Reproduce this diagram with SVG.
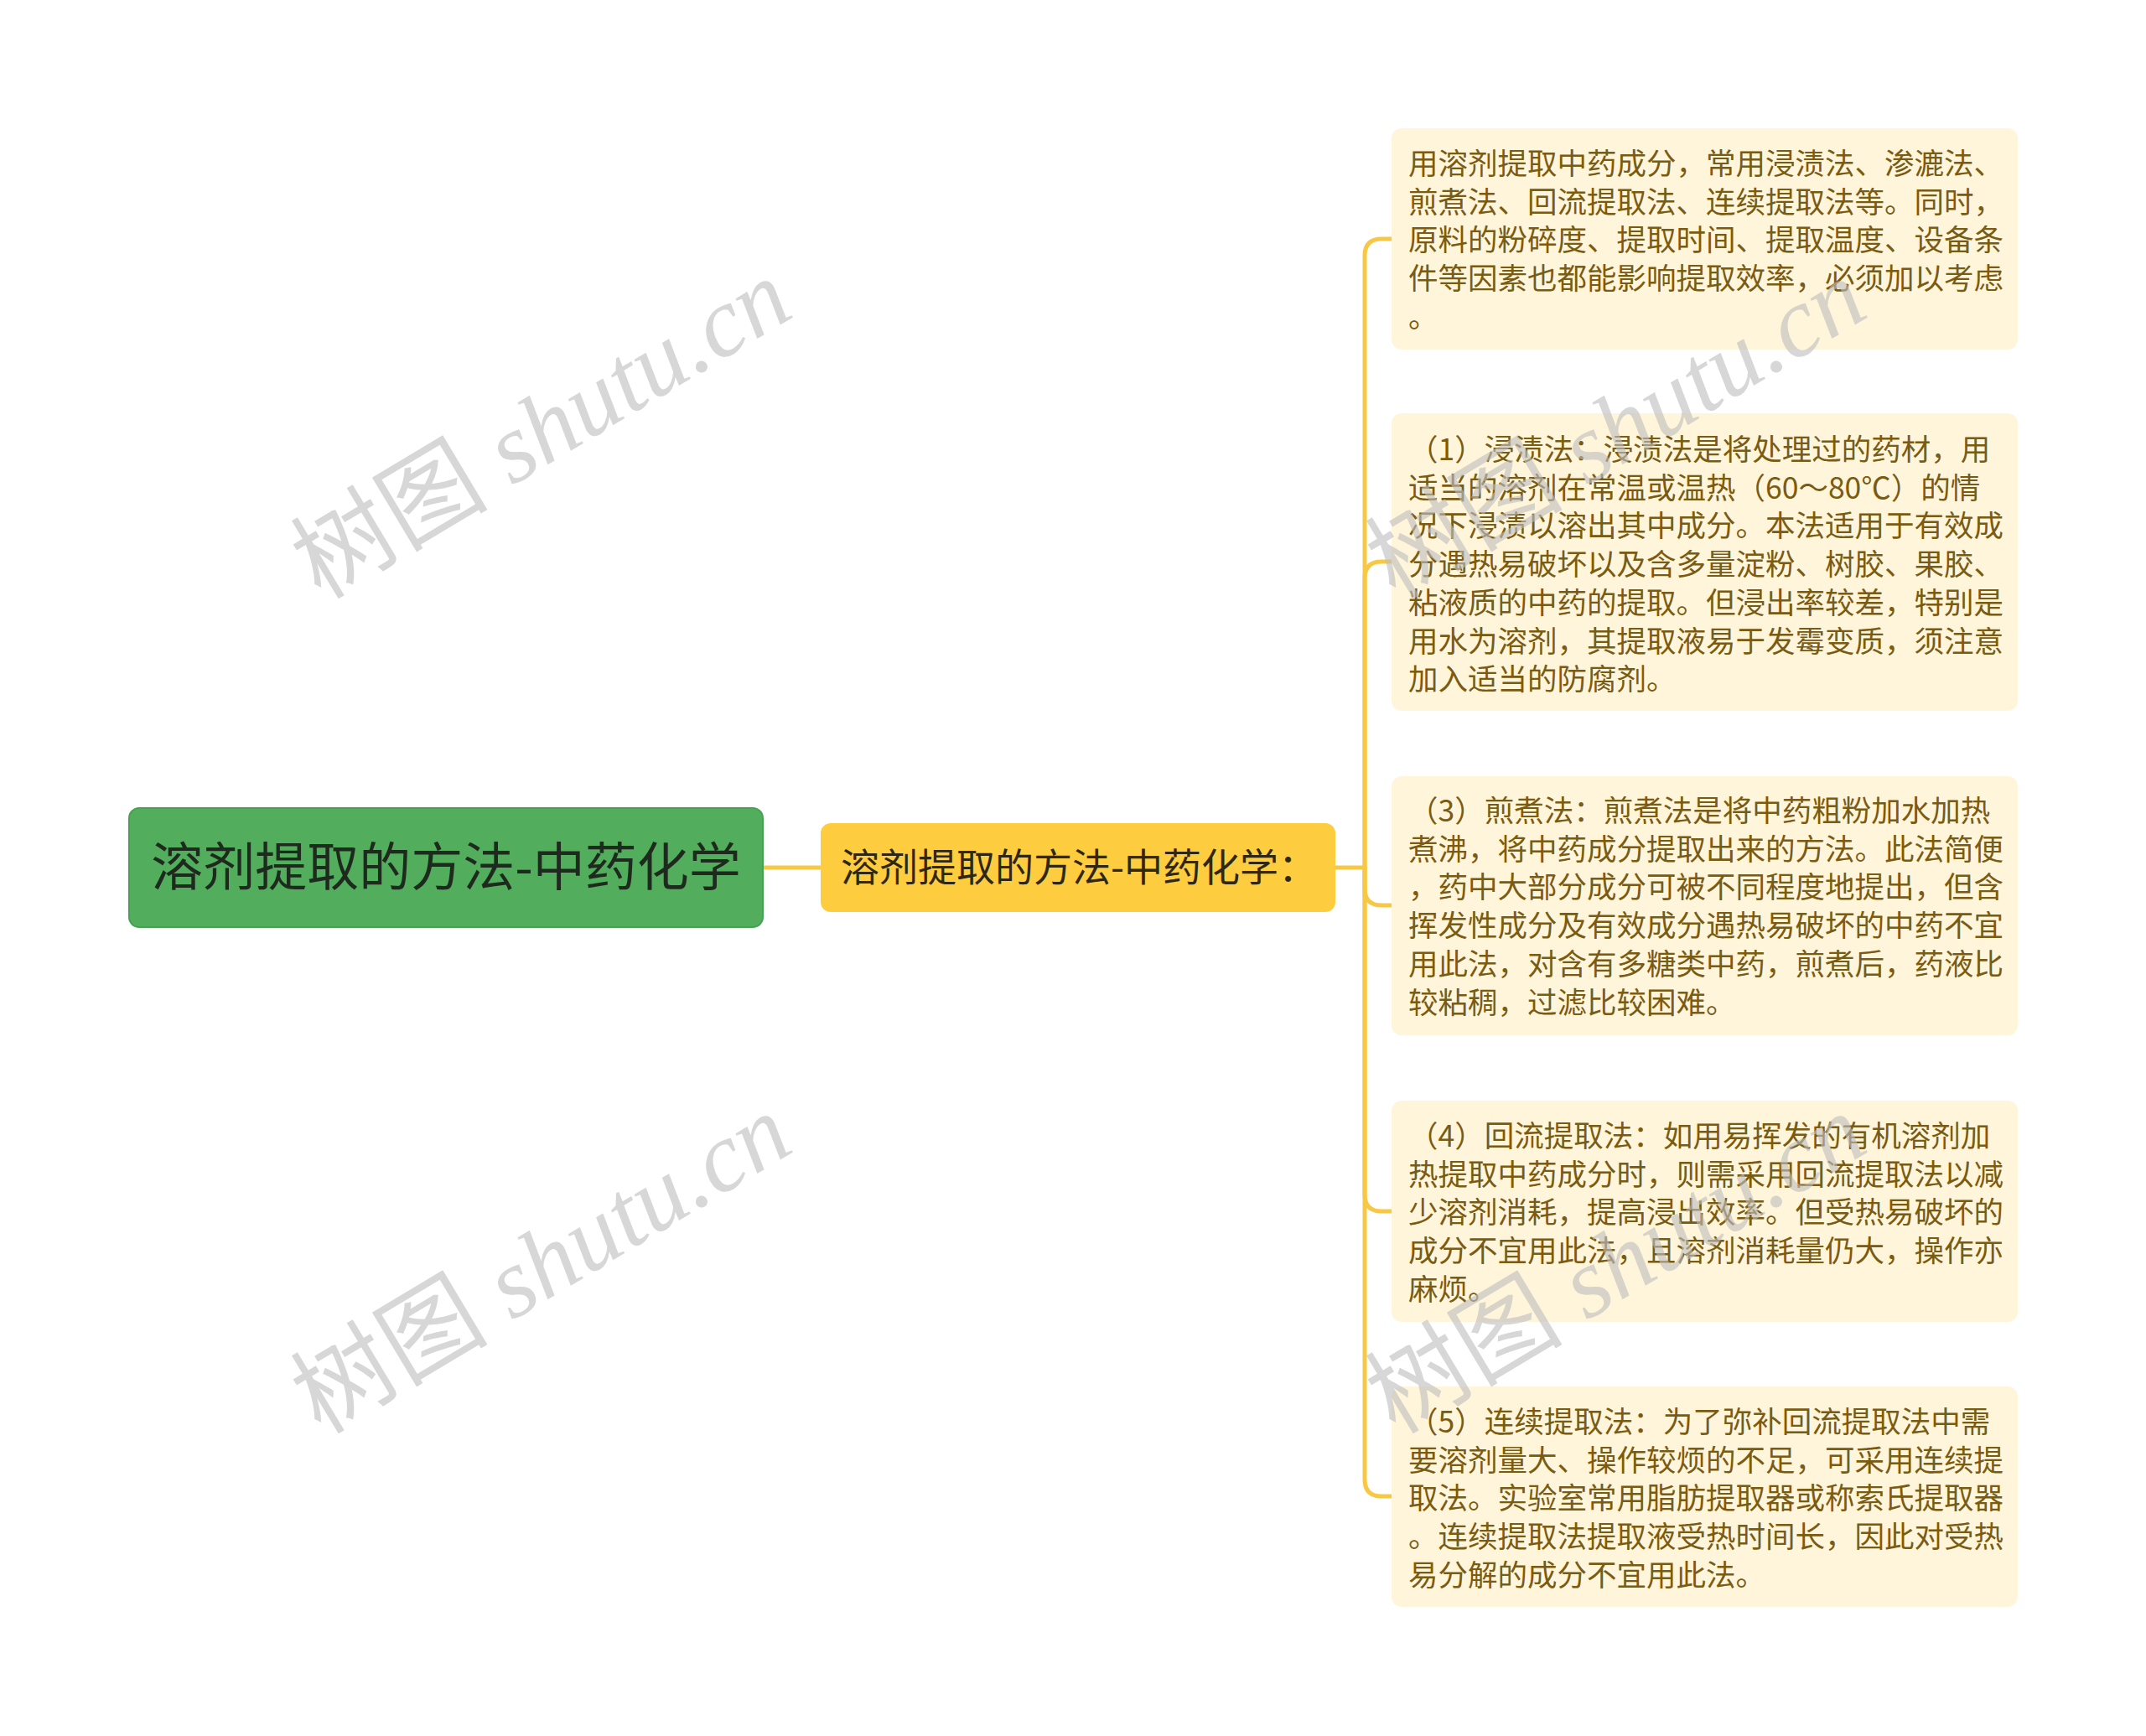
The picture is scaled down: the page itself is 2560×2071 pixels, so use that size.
<svg xmlns="http://www.w3.org/2000/svg" width="2560" height="2071" viewBox="0 0 2560 2071">
<style>
.leaf rect{fill:#FEF5DA;}
.leaf text{font-family:"Noto Sans CJK SC","Noto Sans",sans-serif;font-size:35.5px;fill:#7A5B12;}
.conn{fill:none;stroke:#F7C846;stroke-width:5;stroke-linecap:round;}
.wm{font-family:"Liberation Serif","Noto Sans CJK SC",serif;font-size:118px;fill:#BFBFBF;fill-opacity:0.62;}
</style>
<rect width="2560" height="2071" fill="#FFFFFF"/>
<g id="connectors">
<path class="conn" d="M910 1035 H979"/>
<path class="conn" d="M1593 1035 H1628"/>
<path class="conn" d="M1628 1035 V305 Q1628 285 1648 285 H1660"/>
<path class="conn" d="M1628 1035 V690 Q1628 670 1648 670 H1660"/>
<path class="conn" d="M1628 1035 V1060 Q1628 1080 1648 1080 H1660"/>
<path class="conn" d="M1628 1035 V1425 Q1628 1445 1648 1445 H1660"/>
<path class="conn" d="M1628 1035 V1765 Q1628 1785 1648 1785 H1660"/>
</g>
<g id="root">
<rect x="154" y="964" width="756" height="142" rx="12" fill="#52AE5D" stroke="#47A153" stroke-width="2"/>
<text x="532" y="1057" text-anchor="middle" font-family="Noto Sans CJK SC, Noto Sans, sans-serif" font-size="62" fill="#1E2A1E">溶剂提取的方法-中药化学</text>
</g>
<g id="sub">
<rect x="979" y="982" width="614" height="106" rx="12" fill="#FECC3F"/>
<text x="1003" y="1051" font-family="Noto Sans CJK SC, Noto Sans, sans-serif" font-size="46" fill="#2E2812">溶剂提取的方法-中药化学：</text>
</g>
<g id="leaf1" class="leaf">
<rect x="1660" y="153" width="747" height="264" rx="12"/>
<text>
<tspan x="1680" y="208">用溶剂提取中药成分，常用浸渍法、渗漉法、</tspan>
<tspan x="1680" y="253.7">煎煮法、回流提取法、连续提取法等。同时，</tspan>
<tspan x="1680" y="299.4">原料的粉碎度、提取时间、提取温度、设备条</tspan>
<tspan x="1680" y="345.1">件等因素也都能影响提取效率，必须加以考虑</tspan>
<tspan x="1680" y="390.8">。</tspan>
</text>
</g>
<g id="leaf2" class="leaf">
<rect x="1660" y="493" width="747" height="355" rx="12"/>
<text>
<tspan x="1680" y="549">（1）浸渍法：浸渍法是将处理过的药材，用</tspan>
<tspan x="1680" y="594.7">适当的溶剂在常温或温热（60～80℃）的情</tspan>
<tspan x="1680" y="640.4">况下浸渍以溶出其中成分。本法适用于有效成</tspan>
<tspan x="1680" y="686.1">分遇热易破坏以及含多量淀粉、树胶、果胶、</tspan>
<tspan x="1680" y="731.8">粘液质的中药的提取。但浸出率较差，特别是</tspan>
<tspan x="1680" y="777.5">用水为溶剂，其提取液易于发霉变质，须注意</tspan>
<tspan x="1680" y="823.2">加入适当的防腐剂。</tspan>
</text>
</g>
<g id="leaf3" class="leaf">
<rect x="1660" y="926" width="747" height="309" rx="12"/>
<text>
<tspan x="1680" y="980">（3）煎煮法：煎煮法是将中药粗粉加水加热</tspan>
<tspan x="1680" y="1025.7">煮沸，将中药成分提取出来的方法。此法简便</tspan>
<tspan x="1680" y="1071.4">，药中大部分成分可被不同程度地提出，但含</tspan>
<tspan x="1680" y="1117.1">挥发性成分及有效成分遇热易破坏的中药不宜</tspan>
<tspan x="1680" y="1162.8">用此法，对含有多糖类中药，煎煮后，药液比</tspan>
<tspan x="1680" y="1208.5">较粘稠，过滤比较困难。</tspan>
</text>
</g>
<g id="leaf4" class="leaf">
<rect x="1660" y="1313" width="747" height="264" rx="12"/>
<text>
<tspan x="1680" y="1368">（4）回流提取法：如用易挥发的有机溶剂加</tspan>
<tspan x="1680" y="1413.7">热提取中药成分时，则需采用回流提取法以减</tspan>
<tspan x="1680" y="1459.4">少溶剂消耗，提高浸出效率。但受热易破坏的</tspan>
<tspan x="1680" y="1505.1">成分不宜用此法，且溶剂消耗量仍大，操作亦</tspan>
<tspan x="1680" y="1550.8">麻烦。</tspan>
</text>
</g>
<g id="leaf5" class="leaf">
<rect x="1660" y="1654" width="747" height="263" rx="12"/>
<text>
<tspan x="1680" y="1709">（5）连续提取法：为了弥补回流提取法中需</tspan>
<tspan x="1680" y="1754.7">要溶剂量大、操作较烦的不足，可采用连续提</tspan>
<tspan x="1680" y="1800.4">取法。实验室常用脂肪提取器或称索氏提取器</tspan>
<tspan x="1680" y="1846.1">。连续提取法提取液受热时间长，因此对受热</tspan>
<tspan x="1680" y="1891.8">易分解的成分不宜用此法。</tspan>
</text>
</g>
<g id="watermarks">
<text class="wm" transform="translate(646 512) rotate(-31)" text-anchor="middle" dominant-baseline="central">树图 <tspan font-style="italic">shutu.cn</tspan></text>
<text class="wm" transform="translate(646 1508) rotate(-31)" text-anchor="middle" dominant-baseline="central">树图 <tspan font-style="italic">shutu.cn</tspan></text>
<text class="wm" transform="translate(1928 512) rotate(-31)" text-anchor="middle" dominant-baseline="central">树图 <tspan font-style="italic">shutu.cn</tspan></text>
<text class="wm" transform="translate(1928 1508) rotate(-31)" text-anchor="middle" dominant-baseline="central">树图 <tspan font-style="italic">shutu.cn</tspan></text>
</g>
</svg>
